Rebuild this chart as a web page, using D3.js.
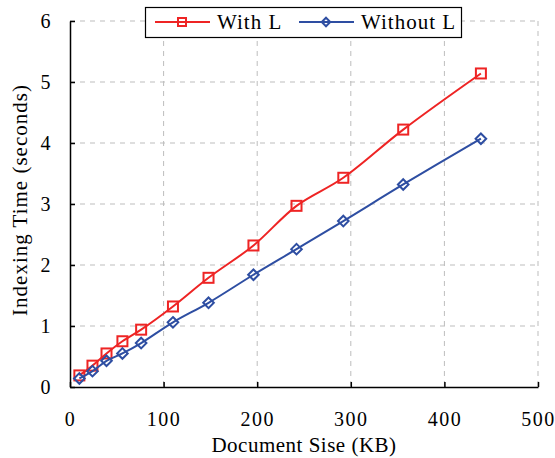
<!DOCTYPE html>
<html>
<head>
<meta charset="utf-8">
<script src="https://cdn.jsdelivr.net/npm/d3@7"></script>
<style>
	body { margin: 0; background: #fff; }
	svg { display: block; }
</style>
</head>
<body>
<svg id="chart" width="555" height="458"></svg>
<script>
// document size (KB)
const sizes = [10, 24, 39, 56, 76, 110, 148, 196, 242, 292, 356, 439]
const withL = [0.19, 0.35, 0.55, 0.75, 0.94, 1.32, 1.79, 2.32, 2.97, 3.43, 4.22, 5.14]
const withoutL = [0.14, 0.26, 0.43, 0.55, 0.72, 1.06, 1.38, 1.84, 2.26, 2.72, 3.32, 4.07]
const xTicks = [0, 100, 200, 300, 400, 500]
const yTicks = [0, 1, 2, 3, 4, 5, 6]
const seriesNames = ['With L', 'Without L']

const red = '#ee2424'
const blue = '#2e4ea2'
const font = "'Liberation Serif', 'DejaVu Serif', 'Times New Roman', serif"

let svg = d3.select('#chart')
let margin = {left: 70, top: 21, right: 17, bottom: 71}
let width = 555 - margin.left - margin.right
let height = 458 - margin.top - margin.bottom

let x = d3.scaleLinear().domain([0, 500]).range([0, width])
let y = d3.scaleLinear().domain([0, 6]).range([height, 0])

let g = svg.append('g')
	.attr('transform', `translate(${margin.left},${margin.top})`)

// dashed grid
g.append('g')
	.selectAll('line')
	.data(xTicks.slice(1))
	.join('line')
	.attr('x1', d => x(d)).attr('x2', d => x(d))
	.attr('y1', 0).attr('y2', height)
	.style('stroke', '#bdbdbd')
	.style('stroke-dasharray', '5,5')
g.append('g')
	.selectAll('line')
	.data(yTicks.slice(1))
	.join('line')
	.attr('x1', 0).attr('x2', width)
	.attr('y1', d => y(d)).attr('y2', d => y(d))
	.style('stroke', '#bdbdbd')
	.style('stroke-dasharray', '5,5')

// axes, ticks point inward
let xAxis = g.append('g')
	.attr('transform', `translate(0,${height})`)
	.call(d3.axisBottom(x).tickValues(xTicks).tickFormat(d3.format('d'))
		.tickSizeInner(-5).tickSizeOuter(0).tickPadding(25))
let yAxis = g.append('g')
	.call(d3.axisLeft(y).tickValues(yTicks).tickFormat(d3.format('d'))
		.tickSizeInner(-5).tickSizeOuter(0).tickPadding(18))

;[xAxis, yAxis].forEach(a => {
	a.attr('font-family', font).attr('font-size', 20)
	a.select('.domain').style('stroke', '#000').style('stroke-width', 1.5)
	a.selectAll('.tick line').style('stroke', '#000').style('stroke-width', 1.5)
	a.selectAll('text')
		.style('fill', '#000')
		.style('letter-spacing', '1.5px')
})

// axis titles
svg.append('text')
	.attr('x', margin.left + width / 2)
	.attr('y', 452)
	.attr('text-anchor', 'middle')
	.attr('font-family', font)
	.attr('font-size', 21)
	.style('letter-spacing', '0.5px')
	.text('Document Sise (KB)')
svg.append('text')
	.attr('transform', `translate(27,200) rotate(-90)`)
	.attr('text-anchor', 'middle')
	.attr('font-family', font)
	.attr('font-size', 21)
	.style('letter-spacing', '1px')
	.text('Indexing Time (seconds)')

let line = d3.line()
	.x(d => x(d[0]))
	.y(d => y(d[1]))
	.curve(d3.curveCatmullRom)

let series = [
	{name: seriesNames[0], values: withL, color: red, shape: 'square'},
	{name: seriesNames[1], values: withoutL, color: blue, shape: 'diamond'}
]

function marker(sel, shape, color, s) {
	if (shape === 'square') {
		sel.append('rect')
			.attr('x', -s / 2).attr('y', -s / 2)
			.attr('width', s).attr('height', s)
	} else {
		let r = s * 0.53
		sel.append('path')
			.attr('d', `M0,${-r}L${r},0L0,${r}L${-r},0Z`)
	}
	sel.selectAll('rect,path')
		.style('fill', 'none')
		.style('stroke', color)
		.style('stroke-width', 2)
}

series.forEach(s => {
	let pts = sizes.map((v, i) => [v, s.values[i]])
	g.append('path')
		.datum(pts)
		.attr('d', line)
		.style('fill', 'none')
		.style('stroke', s.color)
		.style('stroke-width', 2)
	g.append('g')
		.selectAll('g')
		.data(pts)
		.join('g')
		.attr('transform', d => `translate(${x(d[0])},${y(d[1])})`)
		.each(function () { marker(d3.select(this), s.shape, s.color, 10) })
})

// legend
let legend = svg.append('g')
legend.append('rect')
	.attr('x', 145.5).attr('y', 7.5)
	.attr('width', 316).attr('height', 30)
	.style('fill', '#fff')
	.style('stroke', '#000')
	.style('stroke-width', 1.2)

let legendPos = [{lx: 155, tx: 217}, {lx: 299, tx: 361}]
series.forEach((s, i) => {
	let p = legendPos[i]
	let item = legend.append('g').attr('transform', `translate(0,22)`)
	item.append('line')
		.attr('x1', p.lx).attr('x2', p.lx + 55)
		.style('stroke', s.color)
		.style('stroke-width', 2)
	let m = item.append('g').attr('transform', `translate(${p.lx + 27},0)`)
	marker(m, s.shape, s.color, 8)
	item.append('text')
		.attr('x', p.tx)
		.attr('y', 7)
		.attr('font-family', font)
		.attr('font-size', 21)
		.style('letter-spacing', '1px')
		.text(s.name)
})
</script>
</body>
</html>
